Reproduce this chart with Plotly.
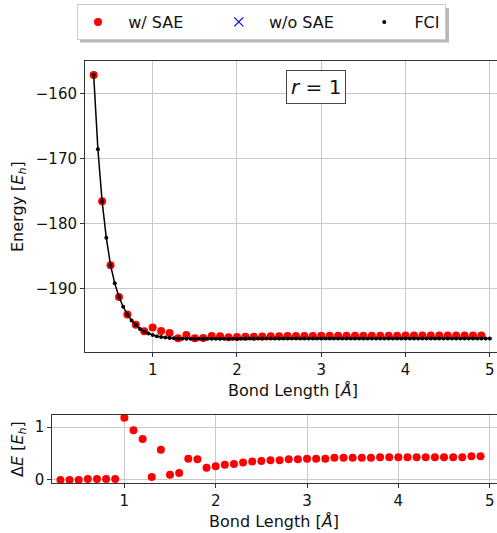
import plotly.graph_objects as go

W, H = 497, 533

# FCI energies, bond length 0.30 .. 5.00 step 0.05
fci_x = [round(0.30 + 0.05 * i, 2) for i in range(95)]
fci_e = [
    -157.2, -168.6, -176.6, -182.2, -186.4, -189.2, -191.3, -192.8, -194.0, -194.9,
    -195.6, -196.2, -196.6, -196.9, -197.15, -197.32, -197.45, -197.54, -197.60, -197.65,
    -197.68, -197.70, -197.71, -197.72, -197.72, -197.72, -197.72, -197.72, -197.71, -197.71,
    -197.71, -197.71, -197.70, -197.70, -197.70, -197.70, -197.69, -197.69, -197.69, -197.69,
    -197.69, -197.69, -197.69, -197.69, -197.68, -197.68, -197.68, -197.68, -197.68, -197.68,
    -197.68, -197.68, -197.68, -197.68, -197.67, -197.67, -197.67, -197.67, -197.67, -197.67,
    -197.67, -197.67, -197.67, -197.67, -197.67, -197.67, -197.67, -197.67, -197.67, -197.67,
    -197.67, -197.67, -197.67, -197.67, -197.66, -197.66, -197.66, -197.66, -197.66, -197.66,
    -197.66, -197.66, -197.66, -197.66, -197.66, -197.66, -197.66, -197.66, -197.66, -197.66,
    -197.66, -197.66, -197.66, -197.66, -197.66,
]

# w/ SAE, bond length 0.3 .. 4.9 step 0.1
sae_x = [round(0.3 + 0.1 * i, 1) for i in range(47)]
sae_e = [
    -157.2, -176.6, -186.4, -191.28, -193.98, -195.58, -196.58, -195.97, -196.51, -196.83,
    -197.62, -197.14, -197.62, -197.59, -197.31, -197.32, -197.47, -197.44, -197.40, -197.39,
    -197.36, -197.34, -197.32, -197.31, -197.31, -197.29, -197.29, -197.27, -197.27, -197.27,
    -197.25, -197.25, -197.25, -197.25, -197.25, -197.24, -197.24, -197.23, -197.23, -197.23,
    -197.23, -197.23, -197.23, -197.23, -197.23, -197.21, -197.21,
]
delta_e = [
    0.00, 0.00, 0.00, 0.02, 0.02, 0.02, 0.02, 1.18, 0.94, 0.775,
    0.056, 0.57, 0.10, 0.13, 0.40, 0.39, 0.23, 0.26, 0.29, 0.30,
    0.33, 0.35, 0.36, 0.375, 0.375, 0.39, 0.39, 0.40, 0.40, 0.40,
    0.42, 0.42, 0.42, 0.42, 0.42, 0.43, 0.43, 0.43, 0.43, 0.43,
    0.43, 0.43, 0.43, 0.43, 0.43, 0.45, 0.45,
]

# w/o SAE (no points visible in the chart)
nosae_x = [None]
nosae_e = [None]

x_ticks = [1, 2, 3, 4, 5]
e_ticks = [-190, -180, -170, -160]
d_ticks = [0, 1]

FONT = "DejaVu Sans"
RED = "#ff0000"
NB = "\u00a0"

def px(x):
    return x / W

def py(y):
    return 1 - y / H

fig = go.Figure()
fig.add_trace(go.Scatter(x=sae_x, y=sae_e, mode="markers", name=NB * 2 + "w/ SAE" + NB * 6,
                         marker=dict(color=RED, size=8), xaxis="x", yaxis="y"))
fig.add_trace(go.Scatter(x=nosae_x, y=nosae_e, mode="markers", name=NB * 2 + "w/o SAE" + NB * 5,
                         marker=dict(color="blue", symbol="x-thin", size=9,
                                     line=dict(color="blue", width=1.2)),
                         xaxis="x", yaxis="y"))
fig.add_trace(go.Scatter(x=fci_x, y=fci_e, mode="lines", showlegend=False,
                         line=dict(color="black", width=1.5), xaxis="x", yaxis="y"))
fig.add_trace(go.Scatter(x=fci_x, y=fci_e, mode="markers", name=NB * 2 + "FCI",
                         marker=dict(color="black", size=4), xaxis="x", yaxis="y"))
fig.add_trace(go.Scatter(x=sae_x, y=delta_e, mode="markers", showlegend=False,
                         marker=dict(color=RED, size=8), xaxis="x2", yaxis="y2"))

axis_common = dict(
    showgrid=True, gridcolor="#c8c8c8", gridwidth=1,
    showline=True, linecolor="#333333", linewidth=1,
    ticks="outside", ticklen=4, tickcolor="#333333", tickwidth=1,
    zeroline=False, tickfont=dict(family=FONT, size=15, color="#111111"),
    automargin=False,
)

fig.update_layout(
    width=W, height=H,
    margin=dict(l=0, r=0, t=0, b=0),
    paper_bgcolor="white", plot_bgcolor="white",
    font=dict(family=FONT, size=15, color="#111111"),
    xaxis=dict(axis_common, domain=[px(85), 1], range=[0.197, 5.085], anchor="y",
               tickvals=x_ticks, mirror=True),
    yaxis=dict(axis_common, domain=[py(352), py(61)], range=[-199.75, -155.03], anchor="x",
               tickvals=e_ticks, ticktext=["\u2212%d" % abs(v) for v in e_ticks]),
    xaxis2=dict(axis_common, domain=[px(52.3), 1], range=[0.211, 5.08], anchor="y2",
                tickvals=x_ticks, mirror=True),
    yaxis2=dict(axis_common, domain=[py(483), py(415)], range=[-0.058, 1.23], anchor="x2",
                tickvals=d_ticks),
    showlegend=True,
    legend=dict(orientation="h", x=px(77), y=py(4), xanchor="left", yanchor="top",
                bgcolor="white", bordercolor="#cccccc", borderwidth=1,
                font=dict(family=FONT, size=16, color="#111111")),
)

# legend drop shadow
fig.add_shape(type="rect", xref="paper", yref="paper",
              x0=px(80), x1=px(449), y0=py(42.5), y1=py(8),
              fillcolor="#b8b8b8", line=dict(width=0), layer="above")

annots = [
    dict(text="Bond Length [<i>Å</i>]", x=px(293), y=py(390), size=16),
    dict(text="Bond Length [<i>Å</i>]", x=px(274), y=py(521), size=16),
    dict(text="Energy [<i>E<sub>h</sub></i>]", x=px(18), y=py(207), angle=-90, size=16),
    dict(text="Δ<i>E</i> [<i>E<sub>h</sub></i>]", x=px(18), y=py(449), angle=-90, size=16),
]
for a in annots:
    fig.add_annotation(xref="paper", yref="paper", showarrow=False,
                       xanchor="center", yanchor="middle",
                       font=dict(family=FONT, size=a["size"], color="#111111"),
                       text=a["text"], x=a["x"], y=a["y"], textangle=a.get("angle", 0))

fig.add_annotation(xref="paper", yref="paper", showarrow=False, x=px(316), y=py(86.5),
                   xanchor="center", yanchor="middle", text="<i>r</i> = 1",
                   font=dict(family=FONT, size=20, color="#111111"),
                   bgcolor="white", bordercolor="#444444", borderwidth=1, borderpad=4)

fig.write_html("out.html")
